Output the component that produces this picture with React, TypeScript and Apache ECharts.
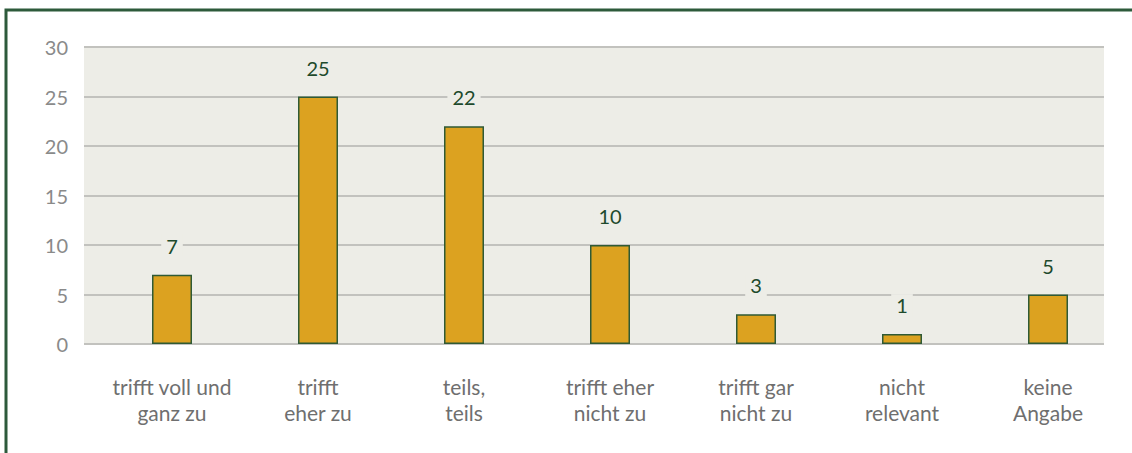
import React, { useEffect, useRef } from "react";
import * as echarts from "echarts";

const categories = [
  "trifft voll und\nganz zu",
  "trifft\neher zu",
  "teils,\nteils",
  "trifft eher\nnicht zu",
  "trifft gar\nnicht zu",
  "nicht\nrelevant",
  "keine\nAngabe",
];
const values = [7, 25, 22, 10, 3, 1, 5];
const yMin = 0;
const yMax = 30;
const yInterval = 5;

const FONT = "Lato, 'Open Sans', sans-serif";
const PLOT_BG = "#EDEDE7";

export default function App() {
  const ref = useRef<HTMLDivElement>(null);
  useEffect(() => {
    if (!ref.current) return;
    const chart = echarts.init(ref.current, undefined, { renderer: "svg" });
    chart.setOption({
      animation: false,
      backgroundColor: "#FFFFFF",
      textStyle: { fontFamily: FONT },
      graphic: [
        {
          type: "rect",
          shape: { x: 6, y: 10, width: 1300, height: 600 },
          style: { fill: "none", stroke: "#2D5A3B", lineWidth: 3 },
          z: 100,
        },
      ],
      grid: [
        {
          left: 84,
          top: 47,
          width: 1020,
          height: 297,
          show: true,
          backgroundColor: PLOT_BG,
          borderWidth: 0,
        },
        {
          left: 99,
          top: 47,
          width: 1022,
          height: 297,
          show: false,
        },
      ],
      xAxis: [
        {
          type: "category",
          gridIndex: 0,
          data: categories,
          show: false,
        },
        {
          type: "category",
          gridIndex: 1,
          data: categories,
          axisLine: { show: false },
          axisTick: { show: false },
          axisLabel: {
            color: "#6F6F6F",
            fontSize: 21,
            lineHeight: 26,
            margin: 29,
            fontFamily: FONT,
            interval: 0,
          },
        },
      ],
      yAxis: [
        {
          type: "value",
          gridIndex: 0,
          min: yMin,
          max: yMax,
          interval: yInterval,
          axisLine: { show: false },
          axisTick: { show: false },
          axisLabel: {
            color: "#8A8A8A",
            fontSize: 20,
            margin: 16,
            fontFamily: FONT,
          },
          splitLine: { lineStyle: { color: "#C2C2BE", width: 2 } },
        },
        {
          type: "value",
          gridIndex: 1,
          min: yMin,
          max: yMax,
          interval: yInterval,
          show: false,
          splitLine: { show: false },
        },
      ],
      series: [
        {
          type: "bar",
          xAxisIndex: 1,
          yAxisIndex: 1,
          data: values,
          barWidth: 40,
          itemStyle: {
            color: "#DCA220",
            borderColor: "#2F5A35",
            borderWidth: 1.5,
          },
          label: {
            show: true,
            position: "top",
            distance: 18,
            color: "#1E4A2C",
            fontSize: 20,
            fontFamily: FONT,
            backgroundColor: PLOT_BG,
            padding: [1, 5],
          },
          z: 5,
        },
      ],
    });
    return () => chart.dispose();
  }, []);
  return (
    <div
      ref={ref}
      style={{ position: "absolute", left: 0, top: 0, width: 1132, height: 453 }}
    />
  );
}
